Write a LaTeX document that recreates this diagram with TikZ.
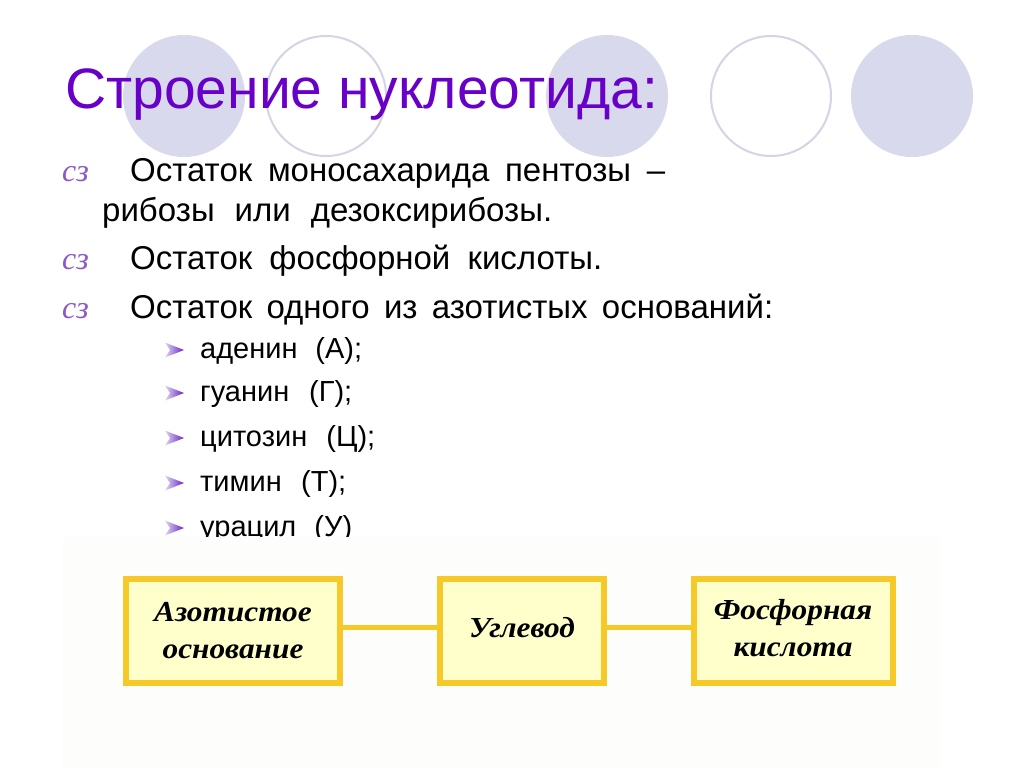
\documentclass[tikz,border=0pt]{standalone}
\usepackage{fontspec}
\usepackage{graphicx}
\setmainfont{Liberation Sans}
\newfontfamily\boxfont{Liberation Serif}
\definecolor{lav}{RGB}{217,217,238}
\definecolor{lavline}{RGB}{212,212,228}
\definecolor{titlec}{RGB}{104,0,200}
\definecolor{bulc}{RGB}{140,90,200}
\definecolor{arrc}{RGB}{110,30,200}
\definecolor{boxfill}{RGB}{255,255,204}
\definecolor{boxline}{RGB}{246,200,40}
\definecolor{imgbg}{RGB}{253,253,251}
\begin{document}
\begin{tikzpicture}[x=1pt,y=-1pt,
  fullc/.style={fill=lav},
  openc/.style={draw=lavline,line width=2pt,fill=white},
  body/.style={anchor=base west,inner sep=0pt,font=\fontsize{33}{38}\selectfont},
  sub/.style={anchor=base west,inner sep=0pt,font=\fontsize{29}{34}\selectfont},
  bul/.style={anchor=base west,inner sep=0pt,text=bulc,font=\boxfont\itshape\fontsize{32}{36}\selectfont},
  arrowbul/.style={left color=lav,right color=arrc,draw=none},
  boxnode/.style={draw=boxline,fill=boxfill,line width=6pt,inner sep=0pt,align=center,
    font=\boxfont\bfseries\itshape\fontsize{29}{37}\selectfont},
  conn/.style={draw=boxline,line width=5pt}]
\useasboundingbox (0,0) rectangle (1024,768);
\fill[white] (0,0) rectangle (1024,768);
% decorative circles
\fill[fullc] (184,96) circle (61pt);
\draw[openc] (326,96) circle (60pt);
\fill[fullc] (607,96) circle (61pt);
\draw[openc] (771,96) circle (60pt);
\fill[fullc] (912,96) circle (61pt);
% title
\node[anchor=base west,inner sep=0pt,text=titlec,font=\fontsize{57}{66}\selectfont] (title) at (65,108) {Строение нуклеотида:};
% main bullets
\node[bul] (b1) at (62,181) {cз};
\node[body] (l1) at (130,181) {\hbox to 535pt{Остаток моносахарида пентозы –}};
\node[body] (l2) at (102,221) {\hbox to 450pt{рибозы или дезоксирибозы.}};
\node[bul] (b2) at (62,269) {cз};
\node[body] (l3) at (130,269) {\hbox to 472pt{Остаток фосфорной кислоты.}};
\node[bul] (b3) at (62,318) {cз};
\node[body] (l4) at (130,318) {\hbox to 643pt{Остаток одного из азотистых оснований:}};
% sub bullets
\foreach \yy in {358,401,446,491,536}{
  \path[arrowbul] (165,\yy-15.5) -- (184,\yy-8) -- (165,\yy-0.5) -- (170,\yy-8) -- cycle;
}
\node[sub] (s1) at (200,358) {\hbox to 162pt{аденин (А);}};
\node[sub] (s2) at (200,401) {\hbox to 152pt{гуанин (Г);}};
\node[sub] (s3) at (200,446) {\hbox to 175pt{цитозин (Ц);}};
\node[sub] (s4) at (200,491) {\hbox to 146pt{тимин (Т);}};
\node[sub] (s5) at (200,536) {\hbox to 152pt{урацил (У)}};
% picture area covering the last line
\fill[imgbg] (63,537) rectangle (940,768);
% boxes
\node[boxnode,minimum width=214pt,minimum height=104pt] (az) at (233,631)
  {\scalebox{1.08}[1]{Азотистое}\\\scalebox{1.08}[1]{основание}};
\node[boxnode,minimum width=164pt,minimum height=104pt] (ug) at (522,631)
  {\raisebox{8pt}{\scalebox{1.08}[1]{Углевод}}};
\node[boxnode,minimum width=199pt,minimum height=104pt] (fk) at (793,631)
  {\raisebox{6pt}{\scalebox{1.08}[1]{Фосфорная}}\\\raisebox{6pt}{\scalebox{1.08}[1]{кислота}}};
\draw[conn] ([yshift=4pt]az.east) -- ([yshift=4pt]ug.west);
\draw[conn] ([yshift=4pt]ug.east) -- ([yshift=4pt]fk.west);
\end{tikzpicture}
\end{document}
